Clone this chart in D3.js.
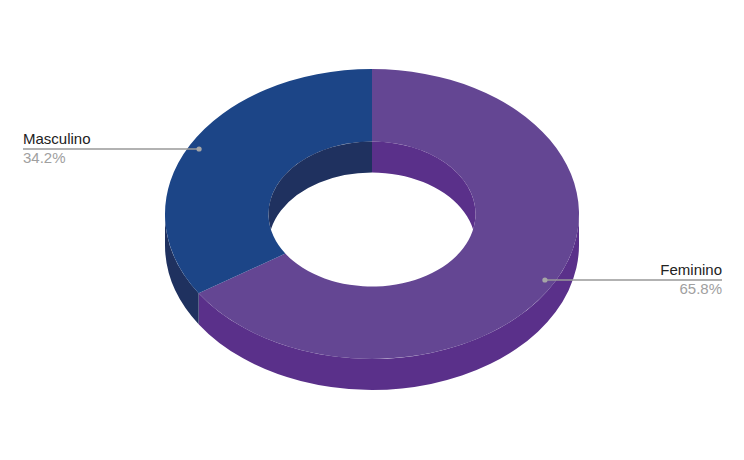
<!DOCTYPE html>
<html>
<head>
<meta charset="utf-8">
<script src="https://cdn.jsdelivr.net/npm/d3@7/dist/d3.min.js"></script>
<style>
html,body{margin:0;padding:0;background:#fff}
svg{display:block}
text{font-family:"Liberation Sans",Arial,sans-serif;font-size:15px}
</style>
</head>
<body>
<div id="chart"></div>
<script>
const categories = ["Feminino", "Masculino"];
const values = [65.8, 34.2];
const topColors = ["#644693", "#1c4587"];
const wallColors = ["#5a308a", "#1f315f"];

const width = 744, height = 460;
const cx = 372, cy = 214, rx = 207, tilt = 0.7, depth = 31, holeRatio = 0.5;
const rIn = rx * holeRatio;

const svg = d3.select("#chart").append("svg").attr("width", width).attr("height", height);
const defs = svg.append("defs");

const pie = d3.pie().sort(null).value(d => d);
const slices = pie(values);
const faceArc = d3.arc().innerRadius(rIn).outerRadius(rx);
const wideArc = d3.arc().innerRadius(rIn).outerRadius(rx * 1.5);
const diskT = dy => `translate(${cx},${cy + dy}) scale(1,${tilt})`;

// point on an ellipse of radius r at pie angle a (clockwise from 12 o'clock)
const pt = (a, r, dy) => [cx + r * Math.sin(a), cy + dy - r * tilt * Math.cos(a)];

// outer side wall of every slice: only the front half of the rim faces the viewer
const wallPath = s => {
  const a0 = Math.max(s.startAngle, Math.PI / 2), a1 = Math.min(s.endAngle, Math.PI * 1.5);
  const p0 = pt(a0, rx, 0), p1 = pt(a1, rx, 0);
  const q1 = pt(a1, rx, depth), q0 = pt(a0, rx, depth);
  const ry = rx * tilt;
  return `M${p0}A${rx},${ry} 0 0 1 ${p1}L${q1}A${rx},${ry} 0 0 0 ${q0}Z`;
};
svg.append("g").selectAll("path").data(slices).join("path")
  .attr("d", wallPath)
  .attr("fill", (d, i) => wallColors[i]);

// top faces
svg.append("g").attr("transform", diskT(0)).selectAll("path").data(slices).join("path")
  .attr("d", faceArc)
  .attr("fill", (d, i) => topColors[i]);

// inner wall, seen through the hole only
defs.append("clipPath").attr("id", "hole").append("ellipse")
  .attr("cx", cx).attr("cy", cy).attr("rx", rIn).attr("ry", rIn * tilt);
svg.append("g").attr("clip-path", "url(#hole)")
  .append("g").attr("transform", diskT(depth))
  .selectAll("path").data(slices).join("path")
  .attr("d", wideArc)
  .attr("fill", (d, i) => wallColors[i]);

// callouts
const callouts = [
  { anchor: "end", x: 722 },
  { anchor: "start", x: 23 }
];
const fmt = d3.format(".1f");
slices.forEach((s, i) => {
  const [dx, rawY] = pt((s.startAngle + s.endAngle) / 2, rx * 0.95, 0);
  const dy = Math.ceil(rawY);
  const c = callouts[i];
  const g = svg.append("g");
  g.append("line").attr("x1", dx).attr("x2", c.x).attr("y1", dy).attr("y2", dy)
    .attr("stroke", "#999").attr("stroke-width", 1.3);
  g.append("circle").attr("cx", dx).attr("cy", dy).attr("r", 2.6).attr("fill", "#a6a6a6");
  g.append("text").attr("x", c.x).attr("y", dy - 5).attr("text-anchor", c.anchor)
    .attr("fill", "#222").text(categories[i]);
  g.append("text").attr("x", c.x).attr("y", dy + 14).attr("text-anchor", c.anchor)
    .attr("fill", "#a0a0a0").text(fmt(values[i]) + "%");
});
</script>
</body>
</html>
